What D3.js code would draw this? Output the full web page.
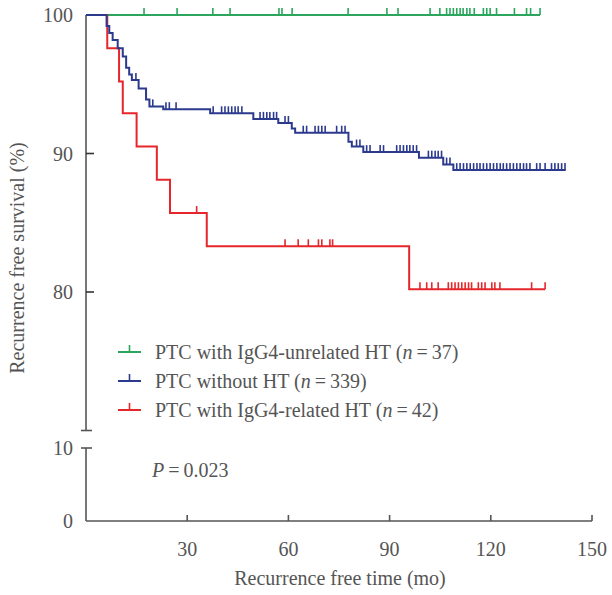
<!DOCTYPE html>
<html><head><meta charset="utf-8">
<script src="https://cdn.jsdelivr.net/npm/d3@7/dist/d3.min.js"></script>
<style>
body{margin:0;background:#fff}
svg{display:block}
</style>
</head><body>
<svg id="c" width="612" height="595" font-family="'Liberation Serif', 'Times New Roman', 'DejaVu Serif', serif"></svg>
<script>
// ---- data ----
const xTicks = [30, 60, 90, 120, 150];
const yTicksUpper = [80, 90, 100];
const yTicksLower = [0, 10];
const seriesNames = ["PTC with IgG4-unrelated HT", "PTC without HT", "PTC with IgG4-related HT"];
const seriesN = [37, 339, 42];
const seriesColors = ["#2ba65c", "#2c3a8e", "#e5262b"];

const greenDropTimes = [];
const greenDropLevels = [];
const greenEnd = 134.6;
const greenCensor = [17.2, 27.0, 37.6, 42.7, 57.2, 58.1, 61.1, 77.7, 89.2, 92.5, 102.0, 104.9, 106.9, 107.9, 108.9, 109.9, 110.9, 111.8, 112.9, 113.8, 115.1, 117.8, 118.8, 119.8, 121.7, 127.0, 130.6, 131.8, 134.6];

const blueDropTimes = [6.1, 6.9, 7.9, 9.4, 10.9, 11.9, 12.8, 13.6, 15.6, 17.8, 18.8, 22.9, 36.8, 49.6, 57.0, 61.0, 62.0, 77.8, 78.8, 82.2, 98.7, 105.9, 108.9];
const blueDropLevels = [99.2, 98.7, 98.2, 97.6, 97.0, 96.2, 95.7, 95.3, 94.7, 93.9, 93.4, 93.2, 92.9, 92.5, 92.2, 91.8, 91.5, 90.85, 90.5, 90.1, 89.7, 89.2, 88.8];
const blueEnd = 142.2;
const blueCensor = [14.8, 19.8, 23.7, 24.7, 26.7, 37.7, 40.2, 41.2, 42.2, 43.2, 44.2, 45.1, 46.2, 51.6, 52.6, 53.6, 54.5, 55.6, 56.5, 59.0, 60.0, 64.4, 65.4, 67.9, 68.9, 69.9, 70.9, 74.3, 75.8, 76.8, 80.2, 81.2, 83.2, 84.2, 87.2, 88.2, 92.1, 93.1, 94.1, 95.1, 96.0, 97.0, 98.0, 101.5, 102.5, 103.5, 104.4, 105.4, 106.9, 107.9,
  109.9, 110.9, 111.9, 112.9, 113.9, 114.9, 115.9, 116.8, 117.8, 118.8, 119.8, 120.8, 121.8, 122.8, 123.7, 124.7, 125.7, 126.7, 127.7, 128.7, 129.7, 130.6, 131.6, 133.6, 134.6, 136.1, 138.0, 139.0, 140.0, 141.0, 142.0];

const redDropTimes = [6.3, 9.8, 10.9, 15.0, 21.0, 24.9, 35.8, 95.8];
const redDropLevels = [97.6, 95.2, 92.9, 90.5, 88.1, 85.7, 83.3, 80.2];
const redEnd = 136.1;
const redCensor = [32.8, 59.0, 62.9, 65.9, 68.9, 69.9, 72.3, 73.1, 99.0, 101.0, 102.5, 104.4, 107.4, 108.4, 109.4, 110.4, 111.4, 112.4, 113.4, 114.3, 116.3, 117.3, 118.3, 120.3, 121.2, 122.7, 132.1, 136.1];

const pText = "0.023";

// ---- layout ----
const svg = d3.select("#c");
const axisColor = "#555";
const textColor = "#555";
const FS = 20;
const x = d3.scaleLinear().domain([0, 150]).range([86, 592]);
const yU = d3.scaleLinear().domain([70, 100]).range([430.5, 15]);
const yL = d3.scaleLinear().domain([0, 10]).range([521, 448]);

function txt(parent, tx, ty, anchor) {
  return parent.append("text").attr("x", tx).attr("y", ty).attr("text-anchor", anchor || "start")
    .attr("font-size", FS).attr("fill", textColor);
}

const g = svg.append("g");
// upper y axis
g.append("line").attr("x1", 86).attr("x2", 86).attr("y1", yU(100)).attr("y2", yU(70)).attr("stroke", axisColor).attr("stroke-width", 1.6);
g.append("line").attr("x1", 81).attr("x2", 92).attr("y1", yU(70)).attr("y2", yU(70)).attr("stroke", axisColor).attr("stroke-width", 1.6);
yTicksUpper.forEach(v => {
  g.append("line").attr("x1", 86).attr("x2", 94).attr("y1", yU(v)).attr("y2", yU(v)).attr("stroke", "#333").attr("stroke-width", 1.6);
  txt(g, 73, yU(v), "end").attr("dy", "0.35em").text(v);
});
// lower y axis
g.append("line").attr("x1", 86).attr("x2", 86).attr("y1", yL(10)).attr("y2", yL(0)).attr("stroke", axisColor).attr("stroke-width", 1.6);
yTicksLower.forEach(v => {
  if (v > 0) g.append("line").attr("x1", 81).attr("x2", 92).attr("y1", yL(v)).attr("y2", yL(v)).attr("stroke", axisColor).attr("stroke-width", 1.6);
  txt(g, 73, yL(v), "end").attr("dy", "0.35em").text(v);
});
// x axis
g.append("line").attr("x1", 86).attr("x2", 592).attr("y1", 521).attr("y2", 521).attr("stroke", axisColor).attr("stroke-width", 1.6);
xTicks.forEach(v => {
  g.append("line").attr("x1", x(v)).attr("x2", x(v)).attr("y1", 521).attr("y2", 515).attr("stroke", axisColor).attr("stroke-width", 1.6);
  txt(g, x(v), 556, "middle").text(v);
});
txt(g, 340, 585, "middle").text("Recurrence free time (mo)");
g.append("text").attr("transform", "translate(24,258) rotate(-90)").attr("text-anchor", "middle")
  .attr("font-size", FS).attr("fill", textColor).text("Recurrence free survival (%)");

// curves
function stepPoints(times, levels, end) {
  const pts = [[0, 100]];
  let prev = 100;
  times.forEach((t, i) => { pts.push([t, prev]); pts.push([t, levels[i]]); prev = levels[i]; });
  pts.push([end, prev]);
  return pts;
}
function levelAt(t, times, levels) {
  let lv = 100;
  times.forEach((tt, i) => { if (tt <= t) lv = levels[i]; });
  return lv;
}
const line = d3.line().x(d => x(d[0])).y(d => yU(d[1]));
const series = [
  {times: greenDropTimes, levels: greenDropLevels, end: greenEnd, censor: greenCensor, color: seriesColors[0]},
  {times: redDropTimes, levels: redDropLevels, end: redEnd, censor: redCensor, color: seriesColors[2]},
  {times: blueDropTimes, levels: blueDropLevels, end: blueEnd, censor: blueCensor, color: seriesColors[1]}
];
series.forEach(s => {
  const sg = svg.append("g");
  sg.append("path").attr("d", line(stepPoints(s.times, s.levels, s.end))).attr("fill", "none").attr("stroke", s.color).attr("stroke-width", 2);
  sg.selectAll("line.c").data(s.censor).enter().append("line")
    .attr("x1", d => x(d)).attr("x2", d => x(d))
    .attr("y1", d => yU(levelAt(d, s.times, s.levels)))
    .attr("y2", d => yU(levelAt(d, s.times, s.levels)) - 7)
    .attr("stroke", s.color).attr("stroke-width", 1.6);
});

// legend
const legY = [352, 381, 410];
seriesNames.forEach((name, i) => {
  const lg = svg.append("g");
  lg.append("line").attr("x1", 118).attr("x2", 141).attr("y1", legY[i]).attr("y2", legY[i]).attr("stroke", seriesColors[i]).attr("stroke-width", 2);
  lg.append("line").attr("x1", 129.5).attr("x2", 129.5).attr("y1", legY[i]).attr("y2", legY[i] - 7).attr("stroke", seriesColors[i]).attr("stroke-width", 1.6);
  const t = txt(lg, 155, legY[i]).attr("dy", "0.35em");
  t.append("tspan").text(name + " (");
  t.append("tspan").attr("font-style", "italic").text("n");
  t.append("tspan").text("\u2009=\u2009" + seriesN[i] + ")");
});
const pt = txt(svg, 152, 470).attr("dy", "0.35em");
pt.append("tspan").attr("font-style", "italic").text("P");
pt.append("tspan").text("\u2009=\u2009" + pText);
</script>
</body></html>
